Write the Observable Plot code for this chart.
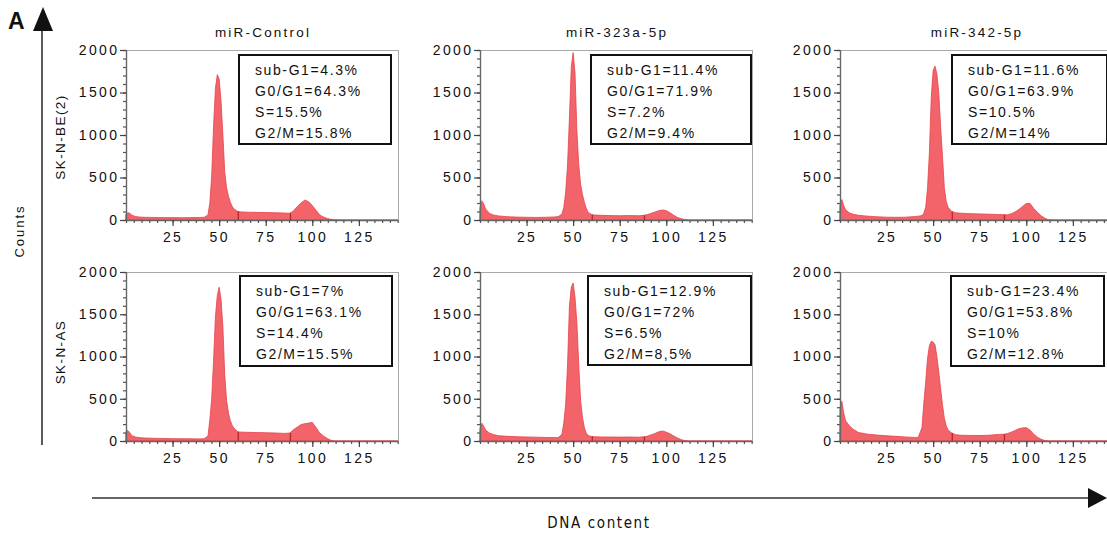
<!DOCTYPE html>
<html><head><meta charset="utf-8">
<script src="https://cdn.jsdelivr.net/npm/d3@7"></script>
<script src="https://cdn.jsdelivr.net/npm/@observablehq/plot@0.6"></script>
<style>
html,body{margin:0;padding:0;background:#fff;overflow:hidden;}
#fig{position:relative;width:1107px;height:534px;overflow:hidden;font-family:"Liberation Sans",Arial,sans-serif;color:#111;background:#fff;}
.panel{position:absolute;}
.panel svg{max-width:none !important;display:block;}
.box{position:absolute;border:2px solid #111;box-sizing:border-box;padding:4px 0 0 15px;font-size:14px;line-height:21px;letter-spacing:1.6px;white-space:nowrap;color:#111;}
.title{position:absolute;font-size:13.5px;line-height:14px;letter-spacing:2.2px;transform:translateX(-50%);white-space:nowrap;color:#111;}
#overlay{position:absolute;left:0;top:0;}
</style></head><body><div id="fig"></div>
<script>
// ---------- data ----------
const treatments = ["miR-Control", "miR-323a-5p", "miR-342-5p"];
const cellLines = ["SK-N-BE(2)", "SK-N-AS"];

// DNA content channel (x) shared by all histograms
const dna = [0,1,2,3,5,7,10,15,20,25,30,35,40,42,44,45,46,47,48,49,50,51,52,53,54,55,56,57,58,60,62,65,70,75,80,85,88,90,92,94,96,98,100,102,104,106,108,110,112,115,146];

// counts per panel
const beControl = [70,85,80,60,40,35,32,30,28,28,27,28,30,32,60,200,520,1100,1550,1710,1660,1400,1000,560,380,280,210,160,130,100,95,92,90,88,85,82,80,110,160,200,235,215,170,115,60,35,18,8,2,0,0];
const be323 = [150,225,190,130,80,60,48,38,34,32,30,32,36,40,70,150,330,650,1200,1800,1970,1730,1050,650,420,300,210,140,90,62,58,55,52,50,52,50,55,65,80,95,110,118,110,85,55,30,15,5,0,0,0];
const be342 = [180,240,170,120,85,68,55,45,38,33,32,33,40,45,52,80,150,380,800,1450,1760,1810,1720,1500,1100,750,380,220,150,100,85,80,75,72,68,65,62,62,75,95,125,160,195,195,135,90,50,20,3,0,0];
const asControl = [110,125,100,65,48,40,35,32,30,28,27,26,25,28,60,250,500,950,1470,1720,1820,1680,1350,780,480,330,240,185,150,108,105,103,100,98,95,90,95,135,165,195,205,212,220,160,95,60,30,8,0,0,0];
const as323 = [150,210,175,130,95,78,62,55,50,48,45,42,40,40,80,220,440,900,1600,1820,1870,1700,1400,900,480,280,160,95,65,52,50,48,47,46,47,45,50,58,75,90,110,118,105,85,60,35,16,5,0,0,0];
const as342 = [380,470,330,240,180,140,100,80,70,62,55,48,42,42,160,450,700,980,1130,1180,1170,1140,1000,820,620,430,270,180,130,95,75,68,66,65,68,78,80,90,105,125,145,155,158,130,80,45,20,5,0,0,0];
const histograms = [beControl, be323, be342, asControl, as323, as342];

// phase percentages per panel
const subG1 = ["4.3%", "11.4%", "11.6%", "7%", "12.9%", "23.4%"];
const g0g1  = ["64.3%", "71.9%", "63.9%", "63.1%", "72%", "53.8%"];
const sPh   = ["15.5%", "7.2%", "10.5%", "14.4%", "6.5%", "10%"];
const g2m   = ["15.8%", "9.4%", "14%", "15.5%", "8,5%", "12.8%"];

// gate markers, ticks
const gates = [60, 88];
const yMajor = [0, 500, 1000, 1500, 2000];
const yMinor = d3.range(0, 2001, 100);
const xMajor = [25, 50, 75, 100, 125];
const xMinor = d3.range(0, 146, 25 / 6);

// ---------- layout ----------
const colX = [126, 480, 840];
const rowTop = [50, 272];
const rowH = [170, 169];
const plotW = 272;
const mL = 60, mR = 12, mT = 10, mB = 32;
const boxPos = [[238,54,392,145],[590,54,752,145],[951,54,1108,145],[239,275,393,367],[587,275,752,366],[950,275,1105,367]];
const FONT = '"Liberation Sans", Arial, sans-serif';

const fig = document.getElementById("fig");

histograms.forEach((counts, i) => {
  const r = Math.floor(i / 3), c = i % 3;
  const data = dna.map((x, k) => ({x, y: counts[k]}));
  const at = v => counts[dna.indexOf(v)];
  const h = rowH[r];
  const W = mL + plotW + mR, H = mT + h + mB;
  const svg = Plot.plot({
    width: W, height: H,
    marginLeft: mL, marginRight: mR, marginTop: mT, marginBottom: mB,
    x: {domain: [0, 146]},
    y: {domain: [0, 2000]},
    style: {fontFamily: FONT, fontSize: "14px", color: "#111", background: "transparent", overflow: "visible", letterSpacing: "2.4px"},
    marks: [
      Plot.areaY(data, {x: "x", y: "y", fill: "#f2646a", stroke: "#e3434a", strokeWidth: 0.8}),
      Plot.ruleX(gates, {x: d => d, y1: 0, y2: d => at(d), stroke: "#b3262c", strokeWidth: 1.3}),
      Plot.frame({stroke: "#aaaaaa"}),
      Plot.ruleX([0], {stroke: "#666", strokeWidth: 1.4}),
      Plot.ruleY([0], {stroke: "#666", strokeWidth: 1.4}),
      Plot.axisY(yMinor, {tickSize: 3, tickFormat: () => "", stroke: "#555", strokeWidth: 1.2, label: null}),
      Plot.axisY(yMajor, {tickSize: 6, tickPadding: 1, tickFormat: d => String(d), stroke: "#444", strokeWidth: 1.2, fill: "#111", label: null}),
      Plot.axisX(xMinor, {tickSize: 3, tickFormat: () => "", stroke: "#555", strokeWidth: 1.2, label: null}),
      Plot.axisX(xMajor, {tickSize: 6, tickPadding: 6, tickFormat: d => String(d), stroke: "#444", strokeWidth: 1.2, fill: "#111", label: null})
    ]
  });
  const wrap = document.createElement("div");
  wrap.className = "panel";
  wrap.style.left = (colX[c] - mL) + "px";
  wrap.style.top = (rowTop[r] - mT) + "px";
  wrap.style.width = W + "px";
  wrap.style.height = H + "px";
  wrap.appendChild(svg);
  fig.appendChild(wrap);

  const [bl, bt, br, bb] = boxPos[i];
  const box = document.createElement("div");
  box.className = "box";
  box.style.left = bl + "px"; box.style.top = bt + "px";
  box.style.width = (br - bl) + "px"; box.style.height = (bb - bt) + "px";
  [["sub-G1", subG1[i]], ["G0/G1", g0g1[i]], ["S", sPh[i]], ["G2/M", g2m[i]]].forEach(([k, v]) => {
    const line = document.createElement("div");
    line.textContent = k + "=" + v;
    box.appendChild(line);
  });
  fig.appendChild(box);
});

// column titles
treatments.forEach((t, c) => {
  const d = document.createElement("div");
  d.className = "title";
  d.textContent = t;
  d.style.left = (colX[c] + plotW / 2 + 1) + "px";
  d.style.top = "26px";
  fig.appendChild(d);
});

// overlay decorations
const NS = "http://www.w3.org/2000/svg";
const ov = document.createElementNS(NS, "svg");
ov.setAttribute("id", "overlay");
ov.setAttribute("width", 1107); ov.setAttribute("height", 534);
ov.setAttribute("font-family", FONT);
function el(name, attrs, text) {
  const e = document.createElementNS(NS, name);
  for (const k in attrs) e.setAttribute(k, attrs[k]);
  if (text != null) e.textContent = text;
  ov.appendChild(e);
  return e;
}
el("text", {x: 8, y: 29, "font-size": 23, "font-weight": "bold", fill: "#111"}, "A");
el("line", {x1: 42, y1: 445, x2: 42, y2: 28, stroke: "#333", "stroke-width": 1.6});
el("polygon", {points: "43,7 33,31 53,31", fill: "#111"});
el("line", {x1: 92, y1: 498, x2: 1092, y2: 498, stroke: "#333", "stroke-width": 1.6});
el("polygon", {points: "1107,498 1088,488 1088,508", fill: "#111"});
el("text", {x: 0, y: 0, transform: "translate(24,231) rotate(-90)", "text-anchor": "middle", "font-size": 13, "letter-spacing": 2, fill: "#111"}, "Counts");
const rowLabelY = [137, 352];
cellLines.forEach((t, r) => {
  el("text", {x: 0, y: 0, transform: `translate(65,${rowLabelY[r]}) rotate(-90)`, "text-anchor": "middle", "font-size": 13.5, "letter-spacing": 1.4, fill: "#111"}, t);
});
el("text", {x: 599, y: 528, "text-anchor": "middle", "font-size": 15, "letter-spacing": 1.6, "font-family": '"Liberation Sans Narrow", "DejaVu Sans Condensed", sans-serif', fill: "#111"}, "DNA content");
fig.appendChild(ov);
</script></body></html>
